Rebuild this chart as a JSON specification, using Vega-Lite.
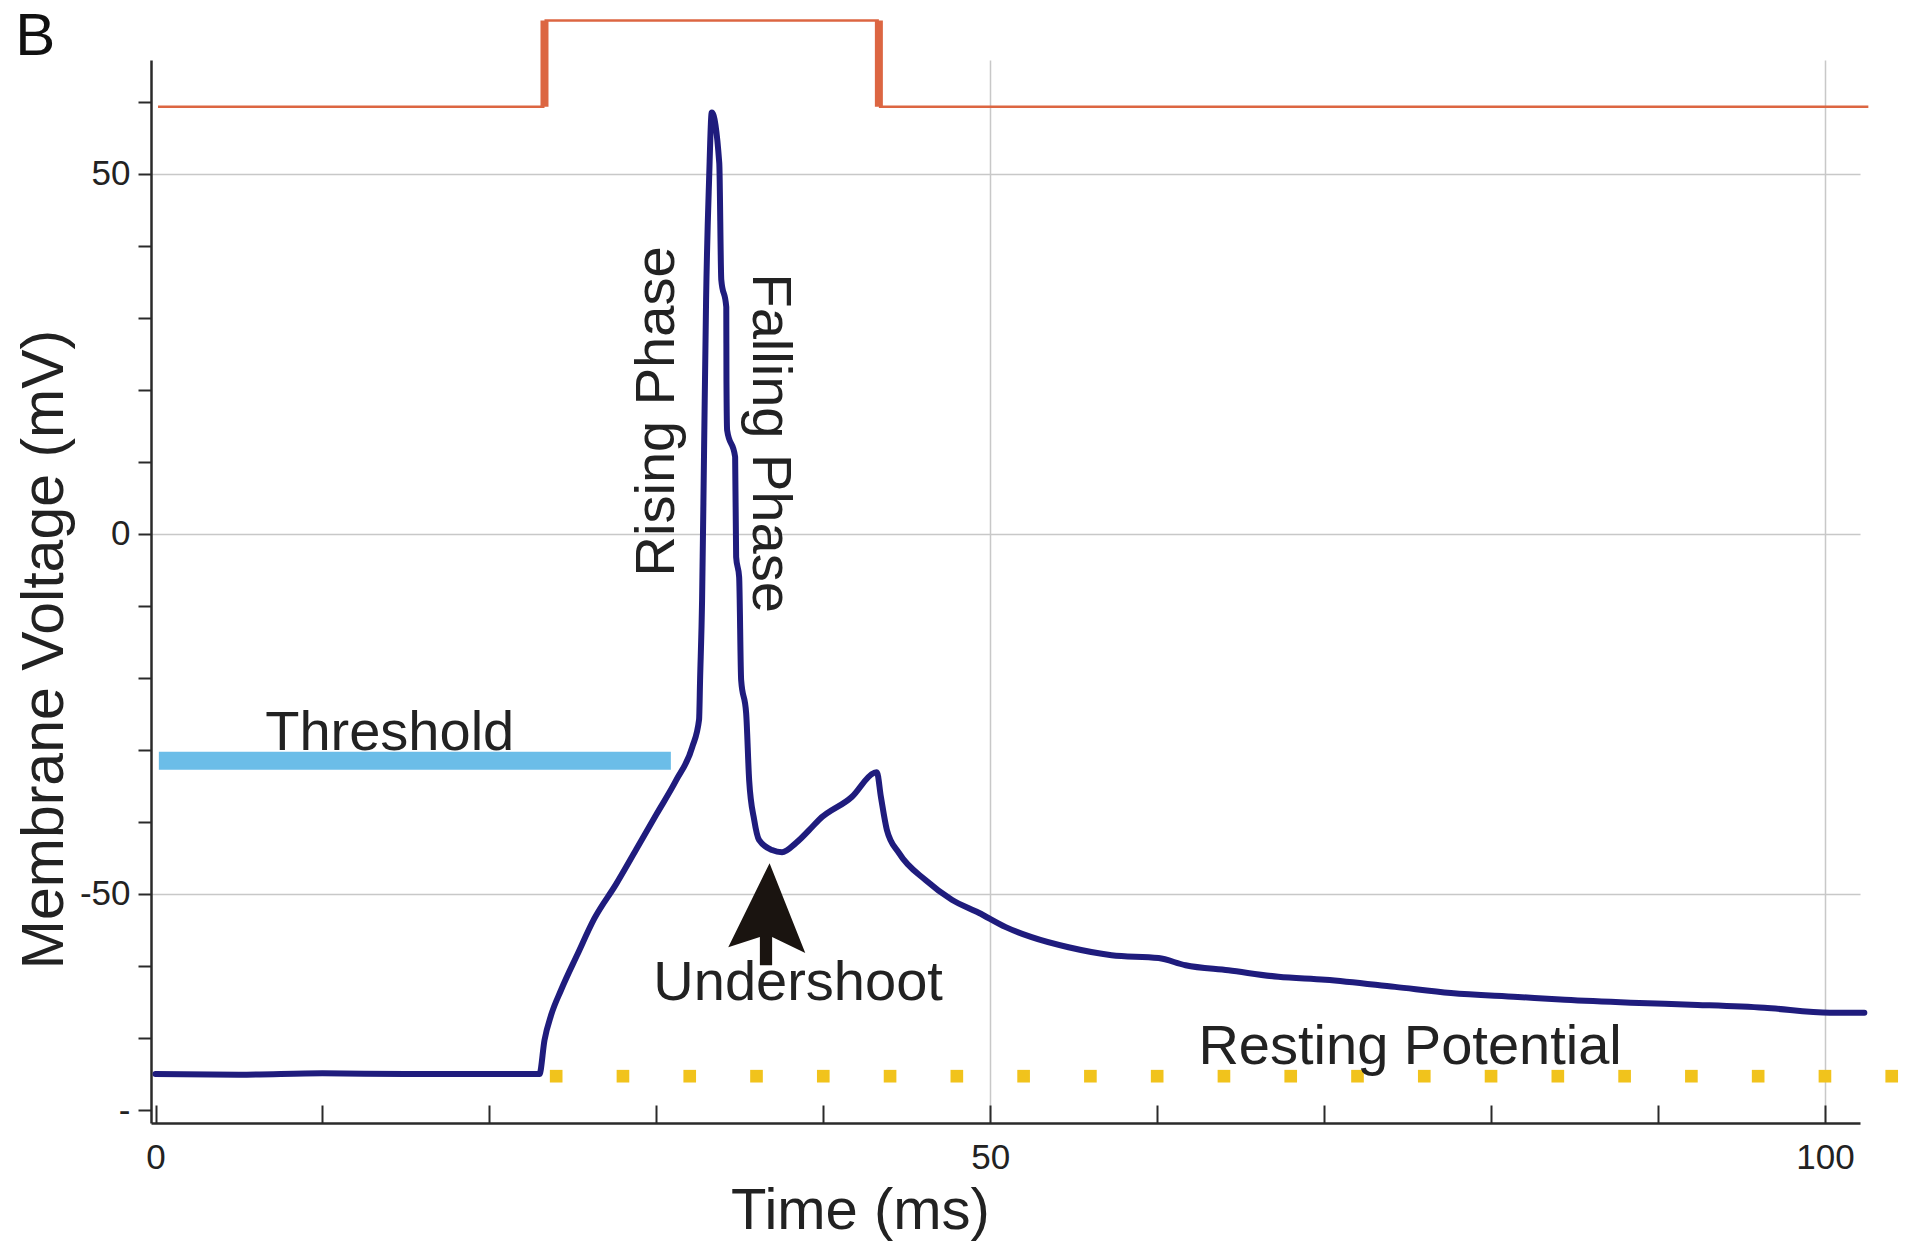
{
  "$schema": "https://vega.github.io/schema/vega-lite/v6.json",
  "width": 1709,
  "height": 1063,
  "autosize": {"type": "none"},
  "padding": {"left": 151, "top": 60, "right": 51, "bottom": 119},
  "background": "white",
  "config": {"view": {"stroke": null}, "font": "Liberation Sans"},
  "datasets": {
    "trace": [
      {"t": 0, "v": -75.0}, {"t": 5, "v": -75.1}, {"t": 10, "v": -74.9}, {"t": 15, "v": -75.0}, {"t": 20, "v": -75.0}, {"t": 23.0, "v": -75.0},
      {"t": 23.3, "v": -70.3}, {"t": 23.7, "v": -66.8}, {"t": 24.3, "v": -63.3}, {"t": 25.27, "v": -58.4}, {"t": 26.29, "v": -53.4},
      {"t": 27.6, "v": -48.6}, {"t": 28.8, "v": -43.8}, {"t": 29.99, "v": -39.0}, {"t": 31.19, "v": -34.2}, {"t": 32.15, "v": -29.6},
      {"t": 32.56, "v": -25.8}, {"t": 32.62, "v": -20.3}, {"t": 32.74, "v": -9.2}, {"t": 32.86, "v": 11.7}, {"t": 32.98, "v": 32.5},
      {"t": 33.16, "v": 49.2}, {"t": 33.32, "v": 58.5}, {"t": 33.77, "v": 51.5}, {"t": 33.89, "v": 35.3}, {"t": 34.19, "v": 31.5},
      {"t": 34.2, "v": 21.4}, {"t": 34.24, "v": 14.4}, {"t": 34.72, "v": 10.7}, {"t": 34.78, "v": -3.2}, {"t": 34.96, "v": -6.0},
      {"t": 35.08, "v": -20.3}, {"t": 35.38, "v": -24.9}, {"t": 35.56, "v": -34.2}, {"t": 35.86, "v": -39.7}, {"t": 36.15, "v": -42.5},
      {"t": 36.93, "v": -43.9}, {"t": 37.53, "v": -44.2}, {"t": 38.37, "v": -42.9}, {"t": 39.33, "v": -40.7}, {"t": 39.74, "v": -39.7},
      {"t": 41.72, "v": -36.5}, {"t": 43.03, "v": -33.2}, {"t": 43.21, "v": -33.1}, {"t": 43.45, "v": -36.5}, {"t": 43.81, "v": -41.1},
      {"t": 44.53, "v": -44.3}, {"t": 46.14, "v": -48.1}, {"t": 47.7, "v": -50.8}, {"t": 49.31, "v": -52.6}, {"t": 50.93, "v": -54.6},
      {"t": 52.48, "v": -56.0}, {"t": 54.69, "v": -57.4}, {"t": 57.27, "v": -58.5}, {"t": 60.08, "v": -58.9}, {"t": 61.7, "v": -59.9},
      {"t": 64.27, "v": -60.6}, {"t": 67.26, "v": -61.5}, {"t": 70.07, "v": -61.9}, {"t": 74.25, "v": -62.9}, {"t": 77.6, "v": -63.75},
      {"t": 81.6, "v": -64.3}, {"t": 84.42, "v": -64.7}, {"t": 88.37, "v": -65.1}, {"t": 92.37, "v": -65.4}, {"t": 96.37, "v": -65.8},
      {"t": 100.3, "v": -66.5}, {"t": 102.36, "v": -66.5}
    ],
    "stimH": [
      {"t": 0.15, "t2": 23.3, "v": 59.3},
      {"t": 23.3, "t2": 43.33, "v": 71.3},
      {"t": 43.33, "t2": 102.6, "v": 59.3}
    ],
    "stimV": [
      {"t": 23.3, "v": 59.3, "v2": 71.3},
      {"t": 43.33, "v": 59.3, "v2": 71.3}
    ],
    "threshold": [{"t": 0.2, "t2": 30.87, "v": -31.5}],
    "resting": [
      {"t": 24, "v": -75.3}, {"t": 28, "v": -75.3}, {"t": 32, "v": -75.3}, {"t": 36, "v": -75.3}, {"t": 40, "v": -75.3},
      {"t": 44, "v": -75.3}, {"t": 48, "v": -75.3}, {"t": 52, "v": -75.3}, {"t": 56, "v": -75.3}, {"t": 60, "v": -75.3},
      {"t": 64, "v": -75.3}, {"t": 68, "v": -75.3}, {"t": 72, "v": -75.3}, {"t": 76, "v": -75.3}, {"t": 80, "v": -75.3},
      {"t": 84, "v": -75.3}, {"t": 88, "v": -75.3}, {"t": 92, "v": -75.3}, {"t": 96, "v": -75.3}, {"t": 100, "v": -75.3},
      {"t": 104, "v": -75.3}
    ],
    "arrow": [{"t": 36.63, "v": -52.8}],
    "panel": [{"t": -8.4, "v": 66.5, "label": "B"}],
    "labelsFlat": [
      {"t": 14.03, "v": -30.0, "label": "Threshold"},
      {"t": 38.49, "v": -64.7, "label": "Undershoot"},
      {"t": 75.15, "v": -73.6, "label": "Resting Potential"}
    ],
    "labelRising": [{"t": 31.07, "v": 17.0, "label": "Rising Phase"}],
    "labelFalling": [{"t": 35.8, "v": 12.6, "label": "Falling Phase"}]
  },
  "encoding": {
    "x": {
      "field": "t", "type": "quantitative", "title": "Time (ms)",
      "scale": {"domain": [-0.27, 102.1], "nice": false, "zero": false},
      "axis": {
        "values": [0, 10, 20, 30, 40, 50, 60, 70, 80, 90, 100],
        "labelExpr": "datum.value % 50 === 0 ? datum.label : ''",
        "tickSize": -18, "tickWidth": 2, "tickColor": "#2a2a2a",
        "domainColor": "#2a2a2a", "domainWidth": 2.5,
        "labelFont": "Liberation Sans", "labelFontSize": 35, "labelColor": "#222222",
        "labelPadding": 35, "labelFlush": false, "labelOverlap": false,
        "grid": true, "gridColor": "#c8c8c8", "gridWidth": 1.5,
        "gridOpacity": {"condition": {"test": "datum.value === 50 || datum.value === 100", "value": 1}, "value": 0},
        "titleFont": "Liberation Sans", "titleFontSize": 58, "titleFontWeight": "normal", "titleColor": "#222222",
        "titleX": 709, "titleY": 105, "titleAlign": "center", "titleBaseline": "alphabetic"
      }
    },
    "y": {
      "field": "v", "type": "quantitative", "title": "Membrane Voltage (mV)",
      "scale": {"domain": [-81.8, 65.8], "nice": false, "zero": false},
      "axis": {
        "values": [-80, -70, -60, -50, -40, -30, -20, -10, 0, 10, 20, 30, 40, 50, 60],
        "labelExpr": "datum.value === -80 ? '-' : (datum.value === -50 ? '-50' : (datum.value % 50 === 0 ? datum.label : ''))",
        "tickSize": 13, "tickWidth": 2, "tickColor": "#2a2a2a",
        "domainColor": "#2a2a2a", "domainWidth": 2.5,
        "labelFont": "Liberation Sans", "labelFontSize": 35, "labelColor": "#222222",
        "labelPadding": 8, "labelFlush": false, "labelOverlap": false,
        "grid": true, "gridColor": "#c8c8c8", "gridWidth": 1.5,
        "gridOpacity": {"condition": {"test": "datum.value % 50 === 0", "value": 1}, "value": 0},
        "titleFont": "Liberation Sans", "titleFontSize": 59, "titleFontWeight": "normal", "titleColor": "#222222",
        "titleX": -89, "titleY": 589, "titleAngle": 270, "titleAlign": "center", "titleBaseline": "alphabetic"
      }
    }
  },
  "layer": [
    {
      "data": {"name": "stimH"},
      "mark": {"type": "rule", "color": "#dc6642", "strokeWidth": 2.5},
      "encoding": {"x2": {"field": "t2"}}
    },
    {
      "data": {"name": "stimV"},
      "mark": {"type": "rule", "color": "#dc6642", "strokeWidth": 8},
      "encoding": {"y2": {"field": "v2"}}
    },
    {
      "data": {"name": "threshold"},
      "mark": {"type": "rule", "color": "#6bbde8", "strokeWidth": 18, "strokeCap": "butt"},
      "encoding": {"x2": {"field": "t2"}}
    },
    {
      "data": {"name": "resting"},
      "mark": {"type": "point", "shape": "square", "filled": true, "color": "#f1c31c", "size": 160, "opacity": 1}
    },
    {
      "data": {"name": "trace"},
      "mark": {"type": "line", "color": "#1f1c7d", "strokeWidth": 6, "strokeJoin": "round", "strokeCap": "round", "interpolate": "monotone"}
    },
    {
      "data": {"name": "arrow"},
      "mark": {"type": "point", "shape": "M0.05,-1 L0.75,0.76 L0.1,0.45 L0.1,1 L-0.14,1 L-0.14,0.45 L-0.76,0.65 Z", "filled": true, "color": "#1a1410", "size": 10404, "opacity": 1}
    },
    {
      "data": {"name": "panel"},
      "mark": {"type": "text", "font": "Liberation Sans", "fontSize": 60, "color": "#111111", "align": "left", "baseline": "alphabetic"},
      "encoding": {"text": {"field": "label"}}
    },
    {
      "data": {"name": "labelsFlat"},
      "mark": {"type": "text", "font": "Liberation Sans", "fontSize": 56, "color": "#222222", "align": "center", "baseline": "alphabetic"},
      "encoding": {"text": {"field": "label"}}
    },
    {
      "data": {"name": "labelRising"},
      "mark": {"type": "text", "font": "Liberation Sans", "fontSize": 56, "color": "#222222", "align": "center", "baseline": "alphabetic", "angle": 270},
      "encoding": {"text": {"field": "label"}}
    },
    {
      "data": {"name": "labelFalling"},
      "mark": {"type": "text", "font": "Liberation Sans", "fontSize": 56, "color": "#222222", "align": "center", "baseline": "alphabetic", "angle": 90},
      "encoding": {"text": {"field": "label"}}
    }
  ]
}
